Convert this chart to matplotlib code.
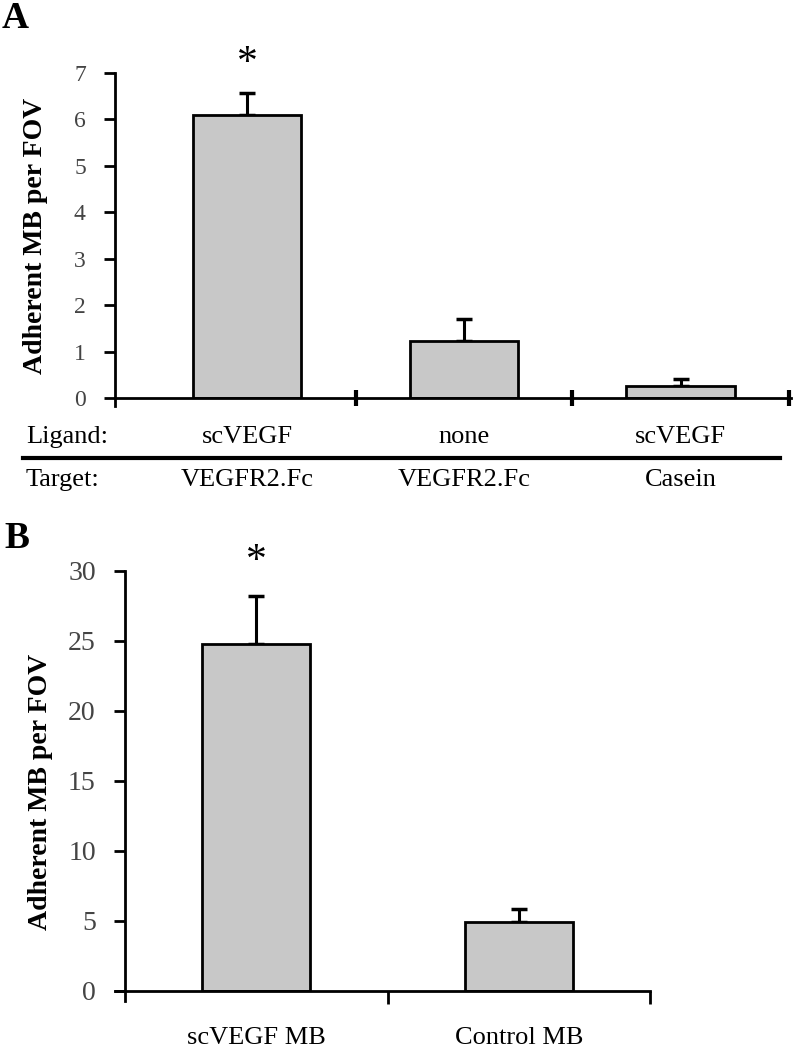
import matplotlib.pyplot as plt
from matplotlib.lines import Line2D

plt.rcParams['font.family'] = ['Liberation Serif', 'DejaVu Serif']

# panel A data
a_means = [6.1, 1.23, 0.26]
a_errs = [0.47, 0.47, 0.15]
a_ligand = ["scVEGF", "none", "scVEGF"]
a_target = ["VEGFR2.Fc", "VEGFR2.Fc", "Casein"]
a_yticks = [0, 1, 2, 3, 4, 5, 6, 7]

# panel B data
b_labels = ["scVEGF MB", "Control MB"]
b_means = [24.8, 4.9]
b_errs = [3.4, 0.95]
b_yticks = [0, 5, 10, 15, 20, 25, 30]

W, H = 793, 1050
fig = plt.figure(figsize=(W / 100, H / 100), dpi=100)


def px_axes(x0, y0, x1, y1):
    # axes from pixel box (top-left origin)
    return fig.add_axes([x0 / W, 1 - y1 / H, (x1 - x0) / W, (y1 - y0) / H])


def fx(x):
    return x / W


def fy(y):
    return 1 - y / H


bar_color = "#c8c8c8"
tick_color = "#444444"

# ---------- Panel A ----------
axA = px_axes(115, 73, 791, 398)
xa = list(range(len(a_means)))
axA.bar(xa, a_means, width=0.5, color=bar_color, edgecolor="black", linewidth=2, zorder=2)
axA.errorbar(xa, a_means, yerr=[[0] * len(a_errs), a_errs], fmt="none", ecolor="black",
             elinewidth=2.2, capsize=6, capthick=2.5, zorder=1)
axA.set_xlim(-0.61, 2.51)
axA.set_ylim(0, 7)
axA.set_yticks(a_yticks)
axA.set_yticklabels([str(v) for v in a_yticks], fontsize=17, color=tick_color)
axA.set_xticks([0.5, 1.5, 2.5])
axA.set_xticklabels([])
axA.tick_params(axis="y", direction="out", length=8, width=2, pad=13)
axA.tick_params(axis="x", direction="inout", length=12, width=3)
for s in ["top", "right"]:
    axA.spines[s].set_visible(False)
axA.spines["left"].set_linewidth(2)
axA.spines["left"].set_bounds(-0.17, 7)
axA.spines["bottom"].set_linewidth(2)
axA.set_ylabel("Adherent MB per FOV", fontsize=20, fontweight="bold")
axA.yaxis.set_label_coords(-0.099, 0.5)
axA.text(0, a_means[0] + a_errs[0] + 0.62, "*", ha="center", va="center", fontsize=30)

fig.text(fx(2), fy(19), "A", fontsize=27, fontweight="bold", va="center", ha="left")

# table under panel A
fig.text(fx(26), fy(437), "Ligand:", fontsize=19, va="center", ha="left")
fig.text(fx(26), fy(480), "Target:", fontsize=19, va="center", ha="left")
for i in range(len(a_ligand)):
    xpix = axA.transData.transform((xa[i], 0))[0]
    fig.text(xpix / W, fy(437), a_ligand[i], fontsize=19, va="center", ha="center")
    fig.text(xpix / W, fy(480), a_target[i], fontsize=19, va="center", ha="center")
fig.add_artist(Line2D([fx(23), fx(780)], [fy(458), fy(458)], color="black", linewidth=3))

# ---------- Panel B ----------
axB = px_axes(125, 571, 650, 991)
xb = list(range(len(b_means)))
axB.bar(xb, b_means, width=0.41, color=bar_color, edgecolor="black", linewidth=2, zorder=2)
axB.errorbar(xb, b_means, yerr=[[0] * len(b_errs), b_errs], fmt="none", ecolor="black",
             elinewidth=2.2, capsize=6, capthick=2.5, zorder=1)
axB.set_xlim(-0.5, 1.5)
axB.set_ylim(0, 30)
axB.set_yticks(b_yticks)
axB.set_yticklabels([str(v) for v in b_yticks], fontsize=20, color=tick_color)
axB.set_xticks([0.5, 1.5])
axB.set_xticklabels([])
axB.tick_params(axis="y", direction="out", length=8, width=2, pad=13)
axB.tick_params(axis="x", direction="out", length=9, width=2)
for s in ["top", "right"]:
    axB.spines[s].set_visible(False)
axB.spines["left"].set_linewidth(2)
axB.spines["left"].set_bounds(-0.7, 30)
axB.spines["bottom"].set_linewidth(2)
axB.spines["bottom"].set_bounds(-0.54, 1.5)
axB.set_ylabel("Adherent MB per FOV", fontsize=20, fontweight="bold")
axB.yaxis.set_label_coords(-0.137, 0.474)
axB.text(0, b_means[0] + b_errs[0] + 2.45, "*", ha="center", va="center", fontsize=30)
for i in range(len(b_labels)):
    xpix = axB.transData.transform((xb[i], 0))[0]
    fig.text(xpix / W, fy(1038), b_labels[i], fontsize=19, va="center", ha="center")

fig.text(fx(4), fy(539), "B", fontsize=27, fontweight="bold", va="center", ha="left")

fig.savefig("out.png", dpi=100)
